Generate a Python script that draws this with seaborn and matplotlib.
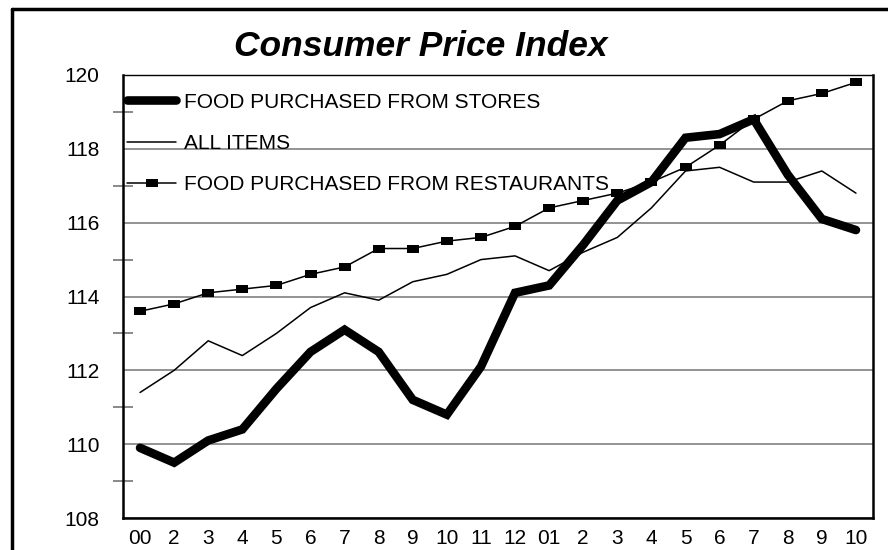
import matplotlib
matplotlib.use("Agg")
import matplotlib.pyplot as plt
from matplotlib.lines import Line2D
from matplotlib.path import Path
from matplotlib.ticker import MultipleLocator
import seaborn as sns
import pandas as pd

# month labels along the x axis
months = ["00", "2", "3", "4", "5", "6", "7", "8", "9", "10", "11", "12",
          "01", "2", "3", "4", "5", "6", "7", "8", "9", "10"]

stores = [109.9, 109.5, 110.1, 110.4, 111.5, 112.5, 113.1, 112.5, 111.2, 110.8, 112.1,
          114.1, 114.3, 115.4, 116.6, 117.1, 118.3, 118.4, 118.8, 117.3, 116.1, 115.8]
all_items = [111.4, 112.0, 112.8, 112.4, 113.0, 113.7, 114.1, 113.9, 114.4, 114.6, 115.0,
             115.1, 114.7, 115.2, 115.6, 116.4, 117.4, 117.5, 117.1, 117.1, 117.4, 116.8]
restaurants = [113.6, 113.8, 114.1, 114.2, 114.3, 114.6, 114.8, 115.3, 115.3, 115.5, 115.6,
               115.9, 116.4, 116.6, 116.8, 117.1, 117.5, 118.1, 118.8, 119.3, 119.5, 119.8]

labels = ["FOOD PURCHASED FROM STORES", "ALL ITEMS", "FOOD PURCHASED FROM RESTAURANTS"]

df = pd.DataFrame({"x": range(len(months)), "stores": stores,
                   "all": all_items, "rest": restaurants})

sns.set_style("white")
plt.rcParams["font.family"] = ["Liberation Sans", "DejaVu Sans"]
plt.rcParams["text.color"] = "black"
plt.rcParams["xtick.labelcolor"] = "black"
plt.rcParams["ytick.labelcolor"] = "black"

fig = plt.figure(figsize=(8.88, 5.5), dpi=100)
ax = fig.add_axes([123 / 888, 1 - 518 / 550, 750 / 888, 443 / 550])

# flat rectangle marker
rect = Path([(-1, -0.6), (1, -0.6), (1, 0.6), (-1, 0.6), (-1, -0.6)])

sns.lineplot(data=df, x="x", y="stores", ax=ax, color="black", lw=6.2,
             solid_capstyle="round", solid_joinstyle="miter", label=labels[0], zorder=4)
sns.lineplot(data=df, x="x", y="all", ax=ax, color="black", lw=1.1,
             label=labels[1], zorder=3)
sns.lineplot(data=df, x="x", y="rest", ax=ax, color="black", lw=1.1, marker=rect,
             markersize=9, markeredgewidth=0, label=labels[2], zorder=3)

ax.set_xlim(-0.5, len(months) - 0.5)
ax.set_ylim(108, 120)
ax.set_xticks(range(len(months)))
ax.set_xticklabels(months)
ax.yaxis.set_major_locator(MultipleLocator(2))
ax.yaxis.set_minor_locator(MultipleLocator(1))
ax.set_xlabel("")
ax.set_ylabel("")

ax.grid(True, axis="y", which="major", color="#808080", lw=1.2)
ax.set_axisbelow(True)
ax.tick_params(axis="y", which="major", direction="inout", length=20, width=1.3,
               color="#808080", labelsize=15, pad=7)
ax.tick_params(axis="y", which="minor", direction="inout", length=15, width=1.3,
               color="#808080", left=True)
ax.tick_params(axis="x", direction="inout", length=12, width=1.3,
               color="#808080", labelsize=15, pad=2)

for side in ["left", "bottom", "right"]:
    ax.spines[side].set_color("black")
    ax.spines[side].set_linewidth(1.8)
ax.spines["top"].set_color("black")
ax.spines["top"].set_linewidth(1.0)

leg = ax.legend(loc="upper left", bbox_to_anchor=(0.003, 0.965), frameon=False,
                fontsize=15, handlelength=2.35, handletextpad=0.35,
                labelspacing=1.07, borderpad=0, borderaxespad=0.1)
for h in leg.legend_handles:
    h.set_color("black")

fig.text(421 / 888, 1 - 47 / 550, "Consumer Price Index", fontsize=25.5,
         fontweight="bold", fontstyle="italic", ha="center", va="center")

# outer frame (left and top edges visible)
fig.add_artist(Line2D([11.5 / 888, 11.5 / 888], [0, 1 - 8.5 / 550], color="black",
                      lw=2.5, transform=fig.transFigure))
fig.add_artist(Line2D([11.5 / 888, 1.0], [1 - 8.5 / 550, 1 - 8.5 / 550], color="black",
                      lw=2.5, transform=fig.transFigure))

fig.savefig("out.png", dpi=100)
